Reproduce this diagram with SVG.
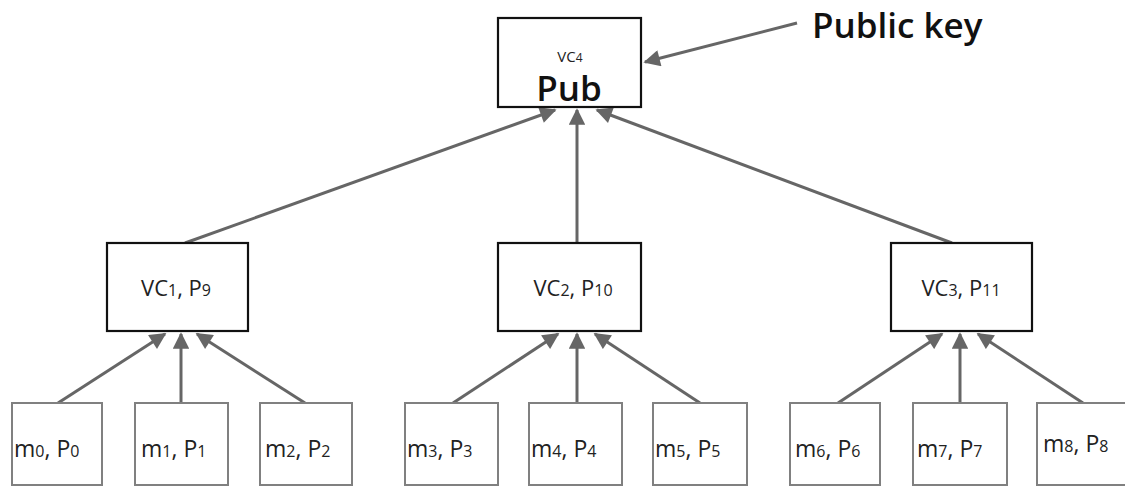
<svg xmlns="http://www.w3.org/2000/svg" width="1125" height="487" viewBox="0 0 1125 487">
<style>
.box{fill:#fff;stroke:#111;stroke-width:2.2}
.leaf{fill:#fff;stroke:#808080;stroke-width:2}
.lbl{font-family:"Open Sans","Liberation Sans",sans-serif;font-size:22px;font-weight:500;fill:#222}
.leaf-lbl{font-size:23px}
.sub{font-size:16px}
.con{stroke:#666;stroke-width:3;fill:none;marker-end:url(#ah)}
</style>
<defs>
<marker id="ah" viewBox="0 0 10 10" refX="9" refY="5" markerWidth="6" markerHeight="5.5" orient="auto" markerUnits="strokeWidth">
<path d="M0,0 L10,5 L0,10 z" fill="#666"/>
</marker>
</defs>
<rect width="1125" height="487" fill="#fff"/>
<g id="connectors">
<line class="con" x1="797" y1="23" x2="645" y2="62"/>
<line class="con" x1="185" y1="243" x2="555" y2="110"/>
<line class="con" x1="577" y1="243" x2="577" y2="110"/>
<line class="con" x1="952" y1="243" x2="597" y2="110"/>
<line class="con" x1="58" y1="403" x2="165" y2="334"/>
<line class="con" x1="181" y1="403" x2="181" y2="334"/>
<line class="con" x1="305" y1="403" x2="197" y2="334"/>
<line class="con" x1="453" y1="403" x2="558" y2="334"/>
<line class="con" x1="577" y1="403" x2="577" y2="334"/>
<line class="con" x1="700" y1="403" x2="595" y2="334"/>
<line class="con" x1="838" y1="403" x2="942" y2="334"/>
<line class="con" x1="960" y1="403" x2="960" y2="334"/>
<line class="con" x1="1083" y1="403" x2="978" y2="334"/>
</g>
<g id="pubkey">
<text x="812" y="38" font-family="'Open Sans','Liberation Sans',sans-serif" font-size="35" font-weight="600" fill="#111">Public key</text>
</g>
<g id="vc4">
<rect class="box" x="498" y="18" width="143" height="89"/>
<text x="570" y="62" text-anchor="middle" font-family="'Open Sans','Liberation Sans',sans-serif" font-size="15" fill="#222">VC<tspan font-size="12">4</tspan></text>
<text x="569" y="101" text-anchor="middle" font-family="'Open Sans','Liberation Sans',sans-serif" font-size="35" font-weight="600" fill="#111">Pub</text>
</g>
<g id="vc1">
<rect class="box" x="107" y="243" width="141" height="88"/>
<text class="lbl" x="176" y="296" text-anchor="middle">VC<tspan class="sub">1</tspan>, P<tspan class="sub">9</tspan></text>
</g>
<g id="vc2">
<rect class="box" x="498" y="243" width="143" height="88"/>
<text class="lbl" x="573" y="296" text-anchor="middle">VC<tspan class="sub">2</tspan>, P<tspan class="sub">10</tspan></text>
</g>
<g id="vc3">
<rect class="box" x="891" y="243" width="141" height="88"/>
<text class="lbl" x="961" y="296" text-anchor="middle">VC<tspan class="sub">3</tspan>, P<tspan class="sub">11</tspan></text>
</g>
<g id="m0"><rect class="leaf" x="12" y="403" width="90" height="82"/><text class="lbl leaf-lbl" x="14" y="457">m<tspan class="sub">0</tspan>, P<tspan class="sub">0</tspan></text></g>
<g id="m1"><rect class="leaf" x="135" y="403" width="93" height="82"/><text class="lbl leaf-lbl" x="141" y="457">m<tspan class="sub">1</tspan>, P<tspan class="sub">1</tspan></text></g>
<g id="m2"><rect class="leaf" x="260" y="403" width="92" height="82"/><text class="lbl leaf-lbl" x="265" y="457">m<tspan class="sub">2</tspan>, P<tspan class="sub">2</tspan></text></g>
<g id="m3"><rect class="leaf" x="405" y="403" width="93" height="82"/><text class="lbl leaf-lbl" x="407" y="457">m<tspan class="sub">3</tspan>, P<tspan class="sub">3</tspan></text></g>
<g id="m4"><rect class="leaf" x="529" y="403" width="93" height="82"/><text class="lbl leaf-lbl" x="531" y="457">m<tspan class="sub">4</tspan>, P<tspan class="sub">4</tspan></text></g>
<g id="m5"><rect class="leaf" x="653" y="403" width="94" height="82"/><text class="lbl leaf-lbl" x="655" y="457">m<tspan class="sub">5</tspan>, P<tspan class="sub">5</tspan></text></g>
<g id="m6"><rect class="leaf" x="790" y="403" width="90" height="82"/><text class="lbl leaf-lbl" x="795" y="457">m<tspan class="sub">6</tspan>, P<tspan class="sub">6</tspan></text></g>
<g id="m7"><rect class="leaf" x="913" y="403" width="94" height="82"/><text class="lbl leaf-lbl" x="917" y="457">m<tspan class="sub">7</tspan>, P<tspan class="sub">7</tspan></text></g>
<g id="m8"><rect class="leaf" x="1037" y="403" width="93" height="82"/><text class="lbl leaf-lbl" x="1043" y="452">m<tspan class="sub">8</tspan>, P<tspan class="sub">8</tspan></text></g>
</svg>
